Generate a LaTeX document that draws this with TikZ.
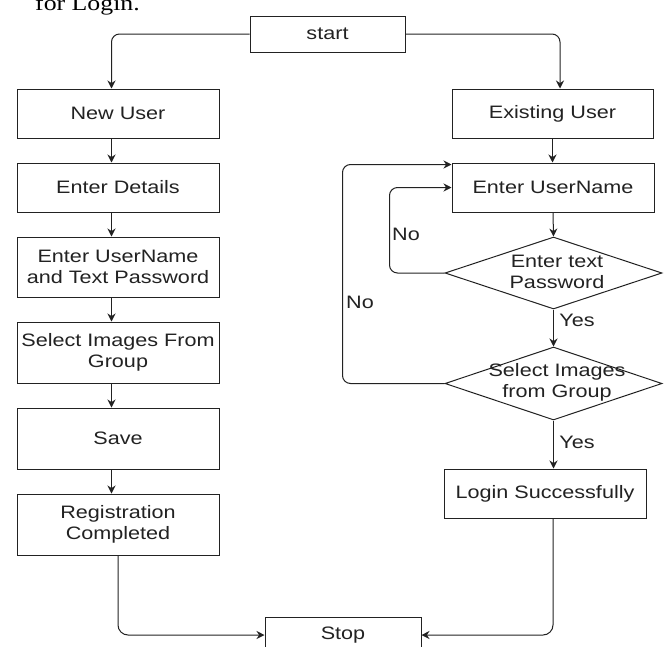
\documentclass[tikz,border=0pt]{standalone}
\usepackage{fontspec}
\setmainfont[FakeStretch=1.2]{Liberation Sans}
\newfontfamily\paperfont[FakeStretch=1.2]{Liberation Serif}
\usetikzlibrary{shapes.geometric,arrows.meta}
\definecolor{ink}{HTML}{222222}
\begin{document}
\begin{tikzpicture}[x=1pt,y=-1pt,
  txt/.style={text=ink, font=\fontsize{18}{21}\selectfont},
  box/.style={txt, draw=ink, line width=1pt, rectangle, minimum width=202pt, inner sep=0pt, align=center},
  dia/.style={draw=ink, line width=1pt, diamond, minimum width=217pt, minimum height=72pt, inner sep=0pt},
  dtext/.style={txt, align=center, inner sep=0pt},
  arr/.style={draw=ink, line width=1pt, -{Stealth[length=8pt,width=8pt]}},
  lab/.style={txt, inner sep=0pt}]
\clip (0,0) rectangle (667,646);
\fill[white] (0,0) rectangle (667,646);

\node[anchor=base west, inner sep=0pt, text=black, font={\fontsize{21.5}{24}\paperfont}] (caption) at (35,10) {for Login.};

% start / stop
\node[box, minimum width=155pt, minimum height=36pt] (start) at (327.5,34) {start};
\node[box, minimum width=156pt, minimum height=36pt] (stop) at (343,635) {Stop};

% left column
\node[box, minimum height=49pt] (newuser) at (118,113.5) {New User};
\node[box, minimum height=49pt] (details) at (118,187.5) {Enter Details};
\node[box, minimum height=60pt] (enterup) at (118,267) {Enter UserName\\and Text Password};
\node[box, minimum height=61pt] (selimg) at (118,352.5) {Select Images From\\Group};
\node[box, minimum height=61pt] (save) at (118,438.5) {Save};
\node[box, minimum height=61pt] (regc) at (118,524.5) {Registration\\Completed};

% right column
\node[box, minimum width=201pt, minimum height=49pt] (existing) at (552.5,113.5) {Existing User};
\node[box, minimum width=202pt, minimum height=49pt] (enteru) at (553,187.5) {Enter UserName};
\node[dia] (d1) at (553.5,273) {};
\node[dtext] (d1t) at (557,272) {Enter text\\Password};
\node[dia, minimum height=73pt] (d2) at (553.5,383.5) {};
\node[dtext] (d2t) at (557,382) {Select Images\\from Group};
\node[box, minimum height=49pt] (login) at (545,493.5) {Login Successfully};

% labels
\node[lab] (no1) at (406,234) {No};
\node[lab] (no2) at (360,302) {No};
\node[lab] (yes1) at (577,320) {Yes};
\node[lab] (yes2) at (577,442) {Yes};

% connectors
\draw[arr, rounded corners=8pt] (start.west) -| ([xshift=-6.5pt]newuser.north);
\draw[arr, rounded corners=8pt] (start.east) -| ([xshift=7.5pt]existing.north);
\foreach \a/\b in {newuser/details, details/enterup, enterup/selimg, selimg/save, save/regc}
  \draw[arr] ([xshift=-6.5pt]\a.south) -- ([xshift=-6.5pt]\b.north);
\draw[arr] (existing.south) -- (existing.south |- enteru.north);
\draw[arr] (enteru.south) -- (d1.north);
\draw[arr] (d1.south) -- (d2.north);
\draw[arr] (d2.south) -- (d2.south |- login.north);
\draw[arr, rounded corners=8pt] (d1.west) -- ++(-55,0) |- (enteru.west);
\draw[arr, rounded corners=8pt] (d2.west) -- ++(-102,0) |- ([yshift=-2pt]enteru.north west);
\draw[arr, rounded corners=10pt] (regc.south) |- (stop.west);
\draw[arr, rounded corners=10pt] ([xshift=8pt]login.south) |- (stop.east);
\end{tikzpicture}
\end{document}
